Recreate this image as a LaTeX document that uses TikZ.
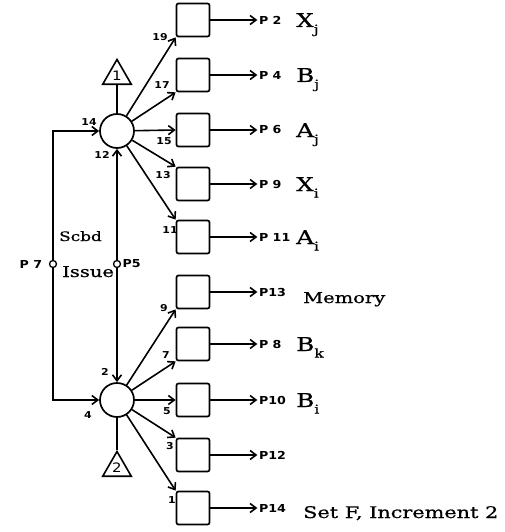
\documentclass[tikz,border=0pt]{standalone}
\usepackage{fontspec}
\setmainfont{DejaVu Serif}
\newfontfamily\tagfont[FakeStretch=1.15]{DejaVu Sans}
\newfontfamily\wordfont[FakeStretch=1.3,FakeBold=0.7]{DejaVu Serif}
\usetikzlibrary{arrows.meta,shapes.geometric}
\newcommand\lowsub[1]{\raisebox{-6.5pt}{\fontsize{12}{12}\selectfont #1}}
\tikzset{
  stagebox/.style={draw, line width=1.7pt, rounded corners=2pt, minimum width=33pt, minimum height=33pt, inner sep=0},
  hub/.style={draw, line width=1.7pt, circle, minimum size=34pt, inner sep=0},
  tri/.style={draw, line width=1.6pt, regular polygon, regular polygon sides=3, minimum size=33pt, inner sep=0, font=\tagfont\fontsize{13}{13}\selectfont},
  port/.style={draw, line width=1.3pt, circle, minimum size=7pt, inner sep=0, fill=white},
  ptag/.style={font=\tagfont\bfseries\fontsize{11}{11}\selectfont, inner sep=1.5pt, anchor=west},
  num/.style={font=\tagfont\bfseries\fontsize{9.5}{10}\selectfont, inner sep=0},
  word/.style={font=\wordfont\fontsize{15}{15}\selectfont, inner sep=0, anchor=base west},
  sym/.style={font=\wordfont\fontsize{19}{19}\selectfont, inner sep=0, anchor=base west},
  wire/.style={line width=1.6pt, -{Straight Barb[length=6pt,width=9pt,line width=1.6pt]}},
}
\begin{document}
\begin{tikzpicture}[x=1pt, y=-1pt]
\useasboundingbox (0,0) rectangle (505,532);
\node[hub] (cu) at (117,131) {};
\node[hub] (cl) at (117,400) {};
\node[tri] (t1) at (117,76) {1};
\node[tri] (t2) at (117,468) {2};
\node[port] (p7) at (53,264) {};
\node[port] (p5) at (117,264) {};
\node[ptag] (lp7) at (18,264) {P 7};
\node[ptag] (lp5) at (121,264) {P5};
\node[word, font=\wordfont\fontsize{13}{13}\selectfont] (scbd) at (59,241) {Scbd};
\node[word] (issue) at (62,277) {Issue};
\foreach \n/\y/\p in {u1/20/P 2, u2/75/P 4, u3/130/P 6, u4/184/P 9, u5/237/P 11,
                      l1/292/P13, l2/344/P 8, l3/400/P10, l4/455/P12, l5/508/P14} {
  \node[stagebox] (\n) at (193,\y) {};
  \node[ptag] (q\n) at ([xshift=47pt]\n.east) {\p};
  \draw[wire] (\n) -- (q\n);
}
\draw[wire] (cu) -- (u1.south west);
\draw[wire] (cu) -- (u2.south west);
\draw[wire] (cu) -- (u3.west);
\draw[wire] (cu) -- (u4.north west);
\draw[wire] (cu) -- (u5.north west);
\draw[wire] (cl) -- (l1.south west);
\draw[wire] (cl) -- (l2.south west);
\draw[wire] (cl) -- (l3.west);
\draw[wire] (cl) -- (l4.north west);
\draw[wire] (cl) -- (l5.north west);
\draw[line width=1.6pt] (cu) -- (t1);
\draw[line width=1.6pt] (cl) -- (t2);
\draw[wire] (p7) |- (cu);
\draw[wire] (p7) |- (cl);
\draw[wire] (p5) -- (cu);
\draw[wire] (p5) -- (cl);
\foreach \t/\x/\y in {19/160/37, 17/162/85, 15/164/141, 13/163/175, 11/170/230, 14/89/122, 12/102/155,
                      9/164/308, 7/166/355, 5/167/411, 3/170/446, 1/172/500, 2/105/372, 4/88/415}
  \node[num] (n\t) at (\x,\y) {\t};
\node[sym] (xj) at (296,27) {X\lowsub{j}};
\node[sym] (bj) at (296,82) {B\lowsub{j}};
\node[sym] (aj) at (296,137) {A\lowsub{j}};
\node[sym] (xi) at (296,191) {X\lowsub{i}};
\node[sym] (ai) at (296,244) {A\lowsub{i}};
\node[word] (mem) at (303,303) {Memory};
\node[sym] (bk) at (296,351) {B\lowsub{k}};
\node[sym] (bi) at (296,407) {B\lowsub{i}};
\node[word, font=\wordfont\fontsize{16}{16}\selectfont] (setf) at (303,518) {Set F, Increment 2};
\end{tikzpicture}
\end{document}
